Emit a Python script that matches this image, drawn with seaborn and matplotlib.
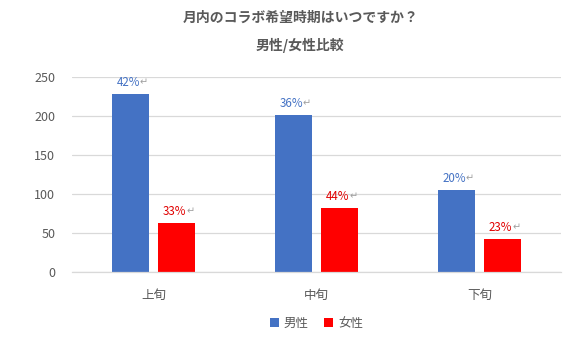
import matplotlib
matplotlib.use("Agg")
import matplotlib.pyplot as plt
import seaborn as sns
import pandas as pd

categories = ["上旬", "中旬", "下旬"]
series = ["男性", "女性"]
male_values = [228, 201, 105]
female_values = [63, 82, 42]
male_pct = ["42%", "36%", "20%"]
female_pct = ["33%", "44%", "23%"]
yticks = [0, 50, 100, 150, 200, 250]

colors = {"男性": "#4472C4", "女性": "#FF0000"}
label_colors = {"男性": "#4472C4", "女性": "#E00000"}

sns.set_theme(style="white")
plt.rcParams['font.family'] = ['Noto Sans CJK JP', 'DejaVu Sans']

df = pd.DataFrame({
    "cat": categories * 2,
    "sex": ["男性"] * 3 + ["女性"] * 3,
    "val": male_values + female_values,
    "pct": male_pct + female_pct,
})

fig = plt.figure(figsize=(5.74, 3.44), dpi=100)
ax = fig.add_axes([0.1254, 0.2093, 0.8516, 0.5669])
sns.barplot(data=df, x="cat", y="val", hue="sex", hue_order=series,
            palette=colors, width=0.57, gap=0.2, saturation=1, ax=ax,
            legend=True, order=categories, linewidth=0)

ax.set_ylim(0, 250)
ax.set_xlim(-0.5, 2.5)
ax.set_yticks(yticks)
ax.yaxis.grid(True, color="#D9D9D9", linewidth=0.9)
ax.set_axisbelow(True)
for s in ["top", "right", "left"]:
    ax.spines[s].set_visible(False)
ax.spines["bottom"].set_color("#D9D9D9")
ax.spines["bottom"].set_linewidth(0.9)
ax.set_xlabel("")
ax.set_ylabel("")
ax.tick_params(axis="y", length=0, pad=12, labelsize=9, labelcolor="#595959")
ax.tick_params(axis="x", length=0, pad=12, labelsize=9, labelcolor="#595959")

# data labels
for container, s in zip(ax.containers, series):
    sub = df[df["sex"] == s].reset_index(drop=True)
    for bar, pct in zip(container, sub["pct"]):
        x = bar.get_x() + bar.get_width() / 2
        y = bar.get_height()
        ax.annotate(pct, (x, y), xytext=(7, 8.5), textcoords="offset points",
                    ha="right", va="center", fontsize=8.3, color=label_colors[s])
        ax.annotate("↵", (x, y), xytext=(7, 8.5), textcoords="offset points",
                    ha="left", va="center", fontsize=7, color="#A0A0A0",
                    family=['DejaVu Sans'])

leg = ax.legend(loc="center", bbox_to_anchor=(0.5, -0.265), ncol=2, frameon=False,
                fontsize=9, handlelength=0.75, handleheight=0.75, handletextpad=0.4,
                columnspacing=1.2)
for t in leg.get_texts():
    t.set_color("#595959")

fig.text(0.523, 0.947, "月内のコラボ希望時期はいつですか？", ha="center", va="center",
         fontsize=10, fontweight="bold", color="#595959")
fig.text(0.523, 0.867, "男性/女性比較", ha="center", va="center",
         fontsize=10, fontweight="bold", color="#595959")

fig.savefig("out.png", dpi=100)
